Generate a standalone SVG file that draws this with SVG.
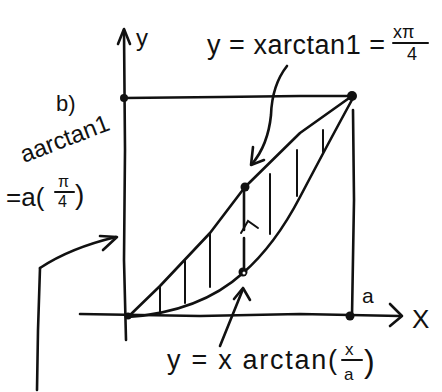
<svg xmlns="http://www.w3.org/2000/svg" width="442" height="392" viewBox="0 0 442 392">
<defs>
<style>
.ln{fill:none;stroke:#111;stroke-width:2.6;stroke-linecap:round;stroke-linejoin:round}
.th{fill:none;stroke:#111;stroke-width:2;stroke-linecap:round}
.dot{fill:#111}
.t{font-family:"Liberation Sans",Arial,sans-serif;fill:#111}
</style>
</defs>
<rect width="442" height="392" fill="#fff"/>
<g id="axes">
<path class="ln" d="M124,30 L125,150 L124,260 L126,340"/>
<path class="ln" d="M118,44 L124,29 L130,44"/>
<path class="ln" d="M80,314 L200,316 L300,314 L400,316"/>
<path class="ln" d="M390,304 L402,316 L390,326"/>
<text class="t" x="136" y="46" font-size="24">y</text>
<text class="t" x="412" y="328" font-size="26">X</text>
</g>
<g id="box">
<path class="ln" d="M124,98 L220,97 L300,96 L353,96"/>
<path class="ln" d="M353,110 L354,200 L352,316"/>
<circle class="dot" cx="124" cy="98" r="4"/>
<circle class="dot" cx="352" cy="96" r="5"/>
<circle class="dot" cx="350" cy="316" r="4.5"/>
<circle class="dot" cx="128" cy="316" r="3.5"/>
<text class="t" x="362" y="303" font-size="21">a</text>
</g>
<g id="curves">
<path class="ln" d="M128,317 L160,286 L210,233 L245,187 L300,133 L352,96"/>
<path class="ln" d="M128,317 Q200,312 243,273 Q275,245 300,197 Q330,140 353,98"/>
<circle class="dot" cx="245" cy="187" r="4.5"/>
<circle class="dot" cx="243" cy="272" r="4.5"/>
<circle cx="244" cy="273" r="1.5" fill="#fff"/>
</g>
<g id="hatching">
<path class="th" d="M160,287 L160,314"/>
<path class="th" d="M185,260 L185,303"/>
<path class="th" d="M210,233 L210,287"/>
<path class="th" d="M270,174 L270,234"/>
<path class="th" d="M297,150 L297,196"/>
<path class="th" d="M323,130 L323,152"/>
<path class="ln" d="M244,191 L244,230 M244,238 L244,268"/>
<path class="th" d="M241,233 L248,221 L258,228"/>
</g>
<g id="label-top">
<text class="t" x="207" y="54" font-size="27" textLength="178" lengthAdjust="spacing">y = xarctan1 =</text>
<text class="t" x="393" y="38" font-size="18">xπ</text>
<path class="th" d="M393,43 L428,43"/>
<text class="t" x="407" y="60" font-size="18">4</text>
<path class="ln" d="M287,66 Q272,85 271,115 Q268,145 252,164"/>
<path class="ln" d="M253,147 L251,165 L264,160"/>
</g>
<g id="label-bottom">
<text class="t" x="167" y="369" font-size="27" textLength="170" lengthAdjust="spacing">y = x arctan(</text>
<text class="t" x="345" y="355" font-size="17">x</text>
<path class="th" d="M342,360 L362,360"/>
<text class="t" x="344" y="380" font-size="17">a</text>
<text class="t" x="364" y="372" font-size="32">)</text>
<path class="ln" d="M220,346 L243,289"/>
<path class="ln" d="M234,299 L243,288 L250,300"/>
</g>
<g id="label-left">
<text class="t" x="56" y="111" font-size="22">b)</text>
<text class="t" x="0" y="0" font-size="24" transform="translate(24,163) rotate(-21)">aarctan1</text>
<text class="t" x="6" y="206" font-size="26">=a(</text>
<text class="t" x="58" y="187" font-size="16">π</text>
<path class="th" d="M55,192 L74,192"/>
<text class="t" x="58" y="207" font-size="16">4</text>
<text class="t" x="75" y="204" font-size="28">)</text>
<path class="ln" d="M37,390 L38,330 L40,268"/>
<path class="ln" d="M40,268 Q70,248 116,237"/>
<path class="ln" d="M100,236 L117,237 L103,250"/>
</g>
</svg>
